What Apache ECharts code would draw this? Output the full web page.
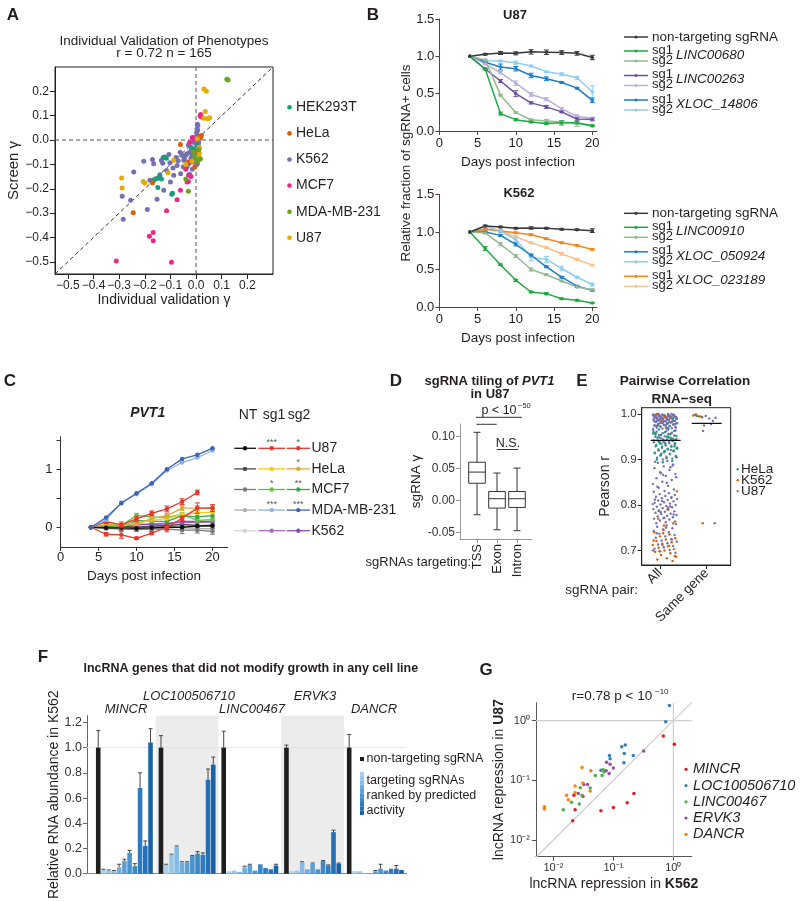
<!DOCTYPE html>
<html><head><meta charset="utf-8"><title>Figure</title>
<script src="https://cdn.jsdelivr.net/npm/echarts@6.0.0/dist/echarts.min.js"></script>
<style>html,body{margin:0;padding:0;background:#fff;}#chart{width:800px;height:901px;}</style>
</head><body><div id="chart"></div>
<script>
// ================= DATA =================
// ---- Panel A: individual validation vs screen gamma
const aCellLines = ['HEK293T','HeLa','K562','MCF7','MDA-MB-231','U87'];
const aTicks = [-0.5,-0.4,-0.3,-0.2,-0.1,0,0.1,0.2];
const aHEK293T = [[-0.128,-0.072],[-0.122,-0.07],[-0.116,-0.075],[-0.152,-0.158],[-0.142,-0.15],[-0.165,-0.165],[-0.149,-0.195],[-0.095,-0.223],[-0.092,-0.218],[-0.135,-0.16],[0.005,-0.02],[-0.01,-0.04],[0.01,-0.06],[-0.02,-0.03]];
const aHeLa = [[-0.061,-0.018],[-0.245,-0.298],[0.013,0.015],[0.021,0.019],[0.018,0.01],[-0.17,-0.175],[-0.03,-0.09],[0.005,-0.05],[-0.005,-0.11],[0.012,-0.035]];
const aK562 = [[-0.243,-0.131],[-0.204,-0.087],[-0.17,-0.08],[-0.165,-0.097],[-0.135,-0.083],[-0.102,-0.093],[-0.106,-0.059],[-0.078,-0.072],[-0.074,-0.104],[-0.054,-0.063],[-0.048,-0.083],[-0.035,-0.056],[-0.029,-0.097],[-0.05,-0.11],[-0.06,-0.138],[-0.087,-0.145],[-0.1,-0.172],[-0.126,-0.206],[-0.152,-0.243],[-0.18,-0.165],[-0.288,-0.231],[-0.284,-0.325],[-0.255,-0.247],[-0.19,-0.285],[-0.141,-0.142],[-0.035,-0.11],[-0.02,-0.075],[-0.015,-0.065],[-0.025,-0.05],[-0.01,-0.045],[0.0,-0.03],[0.003,0.0],[0.005,0.02],[0.006,0.04],[0.007,0.06],[0.005,0.065],[0.002,0.03],[-0.005,0.01],[-0.008,-0.01],[0.008,-0.02],[0.01,-0.05],[0.012,-0.08],[0.005,-0.095],[0.003,-0.1],[-0.012,-0.055],[-0.018,-0.035],[-0.03,-0.02],[-0.04,-0.06],[-0.045,-0.075],[-0.062,-0.05],[-0.07,-0.085],[-0.09,-0.115],[-0.115,-0.125],[-0.13,-0.095],[-0.16,-0.16],[-0.025,-0.14],[-0.015,-0.12],[-0.005,-0.08],[0.0,-0.065],[0.01,-0.01],[0.012,0.005],[-0.002,-0.06],[-0.008,-0.09],[0.004,0.045]];
const aMCF7 = [[0.018,0.105],[0.02,0.095],[0.016,0.1],[-0.061,-0.206],[-0.074,-0.245],[-0.115,-0.29],[-0.182,-0.395],[-0.167,-0.38],[-0.167,-0.413],[-0.311,-0.497],[-0.096,-0.502],[-0.035,-0.172],[-0.03,-0.17],[-0.029,-0.145],[-0.02,-0.15],[-0.04,-0.12],[-0.025,-0.01],[-0.015,0.01],[-0.02,-0.09],[-0.01,0.005]];
const aMDA = [[0.12,0.25],[0.125,0.247],[0.017,-0.077],[-0.04,-0.16],[-0.03,-0.21],[0.005,-0.085],[-0.005,-0.07],[0.01,-0.04],[-0.01,-0.05]];
const aU87 = [[0.031,0.21],[0.04,0.2],[0.036,0.117],[0.045,0.087],[0.053,0.092],[0.03,0.09],[-0.29,-0.156],[-0.288,-0.197],[-0.206,-0.17],[-0.2,-0.176],[-0.087,-0.083],[-0.109,-0.134],[0.012,-0.03],[0.013,-0.056],[-0.016,-0.087],[-0.04,-0.1],[0.01,-0.07],[0.005,0.005]];

// ---- Panel B: growth curves
const bDays = [4,6,8,10,12,14,16,18,20];
const bU87Genes = ['LINC00680','LINC00263','XLOC_14806'];
const bU87NT = [1.00,1.027,1.045,1.04,1.06,1.055,1.05,1.04,0.985];
const bU87NTErr = [0,0.01,0.02,0.02,0.03,0.03,0.025,0.025,0.03];
const bU87_LINC00680_sg1 = [1.00,0.83,0.233,0.152,0.121,0.10,0.11,0.11,0.07];
const bU87_LINC00680_sg1Err = [0,0.01,0.02,0.015,0.01,0.01,0.03,0.02,0.01];
const bU87_LINC00680_sg2 = [1.00,0.95,0.48,0.247,0.15,0.135,0.12,0.10,0.067];
const bU87_LINC00680_sg2Err = [0,0.01,0.01,0.01,0.01,0.02,0.02,0.04,0.01];
const bU87_LINC00263_sg1 = [1.00,0.83,0.67,0.50,0.377,0.323,0.256,0.16,0.157];
const bU87_LINC00263_sg1Err = [0,0.01,0.02,0.04,0.015,0.02,0.01,0.02,0.02];
const bU87_LINC00263_sg2 = [1.00,0.90,0.78,0.64,0.49,0.426,0.296,0.197,0.17];
const bU87_LINC00263_sg2Err = [0,0.01,0.015,0.03,0.025,0.02,0.02,0.02,0.01];
const bU87_XLOC14806_sg1 = [1.00,0.92,0.857,0.834,0.744,0.70,0.65,0.574,0.41];
const bU87_XLOC14806_sg1Err = [0,0.01,0.04,0.03,0.03,0.025,0.01,0.01,0.03];
const bU87_XLOC14806_sg2 = [1.00,0.94,0.937,0.915,0.87,0.795,0.76,0.713,0.525];
const bU87_XLOC14806_sg2Err = [0,0.01,0.01,0.02,0.01,0.01,0.02,0.02,0.08];

const bK562Genes = ['LINC00910','XLOC_050924','XLOC_023189'];
const bK562NT = [1.00,1.08,1.067,1.05,1.054,1.05,1.036,1.03,1.018];
const bK562NTErr = [0,0.01,0.01,0.01,0.015,0.01,0.01,0.01,0.025];
const bK562_LINC00910_sg1 = [1.00,0.78,0.564,0.356,0.20,0.178,0.11,0.089,0.053];
const bK562_LINC00910_sg1Err = [0,0.025,0.01,0.015,0.01,0.015,0.01,0.01,0.005];
const bK562_LINC00910_sg2 = [1.00,0.987,0.836,0.68,0.50,0.43,0.347,0.267,0.23];
const bK562_LINC00910_sg2Err = [0,0.01,0.02,0.02,0.02,0.01,0.01,0.01,0.01];
const bK562_XLOC050924_sg1 = [1.00,1.00,0.955,0.835,0.69,0.536,0.397,0.277,0.223];
const bK562_XLOC050924_sg1Err = [0,0.01,0.015,0.02,0.01,0.01,0.01,0.01,0.01];
const bK562_XLOC050924_sg2 = [1.00,1.08,1.013,0.90,0.665,0.634,0.513,0.397,0.30];
const bK562_XLOC050924_sg2Err = [0,0.015,0.02,0.03,0.05,0.04,0.03,0.01,0.02];
const bK562_XLOC023189_sg1 = [1.00,1.036,1.013,0.99,0.964,0.91,0.857,0.82,0.768];
const bK562_XLOC023189_sg1Err = [0,0.01,0.01,0.01,0.01,0.01,0.01,0.01,0.01];
const bK562_XLOC023189_sg2 = [1.00,1.036,1.02,0.937,0.857,0.79,0.71,0.634,0.558];
const bK562_XLOC023189_sg2Err = [0,0.01,0.01,0.01,0.01,0.01,0.02,0.01,0.01];

// ---- Panel C: PVT1 (log2 relative fraction)
const cDays = [4,6,8,10,12,14,16,18,20];
const cXTicks = [0,5,10,15,20];
const cLines = ['U87','HeLa','MCF7','MDA-MB-231','K562'];
const cStars = [['***','*'],['','*'],['*','**'],['***','***'],['','']];
const cU87NT = [0,-0.01,-0.01,-0.02,-0.01,0.0,0.0,0.02,0.03];
const cU87sg1 = [0,0.098,0.04,0.144,0.24,0.316,0.44,0.60,null];
const cU87sg1Err = [0,0.03,0.05,0.05,0.04,0.05,0.05,0.04,0];
const cU87sg2 = [0,-0.12,-0.13,-0.19,-0.10,0.0,0.155,0.33,0.33];
const cU87sg2Err = [0,0.03,0.06,0.02,0.03,0.05,0.04,0.09,0.06];
const cHeLaNT = [0,0.01,0.02,0.0,0.02,0.03,0.05,0.03,0.02];
const cHeLasg1 = [0,0.06,0.05,0.07,0.12,0.15,0.22,0.25,0.26];
const cHeLasg2 = [0,0.04,0.02,0.06,0.15,0.20,0.33,0.33,0.33];
const cHeLasg2Err = [0,0.02,0.03,0.03,0.04,0.04,0.04,0.04,0.04];
const cMCF7NT = [0,-0.02,-0.03,-0.04,-0.03,-0.03,-0.05,-0.05,-0.07];
const cMCF7NTErr = [0,0.02,0.03,0.03,0.04,0.05,0.06,0.05,0.05];
const cMCF7sg1 = [0,0.05,0.03,0.20,0.18,0.17,0.22,0.12,0.13];
const cMCF7sg1Err = [0,0.02,0.03,0.04,0.03,0.03,0.03,0.03,0.03];
const cMCF7sg2 = [0,0.03,0.0,0.12,0.10,0.10,0.20,0.18,0.20];
const cMDANT = [0,0.0,-0.01,0.0,0.01,0.02,-0.01,-0.02,-0.03];
const cMDAsg1 = [0,0.126,0.425,0.569,0.741,0.977,1.115,1.20,1.322];
const cMDAsg2 = [0,0.167,0.414,0.586,0.759,1.00,1.178,1.247,1.362];
const cK562NT = [0,0.0,0.01,-0.01,0.0,0.02,0.03,0.03,0.05];
const cK562sg1 = [0,0.03,0.04,0.05,0.06,0.07,0.08,0.08,0.09];
const cK562sg2 = [0,0.02,0.03,0.04,0.05,0.06,0.10,0.10,0.10];

// ---- Panel D: sgRNA tiling boxplot [min, Q1, median, Q3, max]
const dCategories = ['TSS','Exon','Intron'];
const dBoxes = [[-0.0224,0.027,0.0445,0.060,0.107],[-0.046,-0.012,0.0027,0.014,0.043],[-0.0475,-0.011,0.0027,0.014,0.0508]];
const dTicks = [-0.05,0,0.05,0.10];

// ---- Panel E: pairwise correlation (Pearson r)
const eCats = ['All','Same gene'];
const eAllU87 = [1.000,.999,.998,.997,.996,.995,.994,.993,.992,.991,.990,.989,.988,.987,.986,.985,.984,.983,.982,.981,.980,.979,.978,.977,.976,.975,.974,.973,.972,.971,.970,.969,.968,.967,.966,
.999,.998,.997,.996,.995,.994,.993,.992,.991,.990,.989,.988,.987,.986,.985,.984,.983,.982,.981,.980,.979,.978,.977,.976,.975,.974,.972,.970,.968,
1.000,.999,.998,.997,.996,.995,.994,.993,.992,.991,.990,.989,.988,.987,.986,.985,.984,.982,.980,.978,.976,.974,
1.000,.999,.998,.997,.996,.995,.994,.993,.992,.991,.990,.988,.986,.984,.981,.999,.998,.997,.996,.995,.994,.993,.992,.990,.987,1.000,.998,.996,.994,.992,.990,
.964,.962,.961,.959,.958,.957,.955,.954,.953,.951,.950,.948,.947,.945,.944,.942,.941,.939,.938,.936,.935,.933,.931,.930,.928,.926,.924,.922,.920,.918,.916,.914,.912,.910,.908,.906,.904,.902,.900,.963,.956,.949,.943,.937,.929,.921,.913,.905,
.897,.893,.889,.885,.881,.877,.872,.868,.864,.859,.855,.851,.846,.842,.838,.834,.831,.895,.883,.870,.861,.849,.840,.887,.866,
.829,.826,.824,.822,.820,.818,.816,.815,.813,.811,.810,.808,.806,.805,.803,.801,.800,.798,.796,.795,.793,.791,.790,.788,.786,.785,.783,.781,.780,.778,.776,.775,.773,.771,.770,.768,.766,.764,.762,.760,.817,.809,.802,.794,.787,.779,.772,.812,.797,.784,
.758,.755,.752,.749,.746,.743,.740,.737,.734,.731,.728,.725,.722,.719,.716,.713,.710,.707,.704,.701,.698,.695,.750,.738,.724,.712,.700];
const eAllHeLa = [.970,.966,.963,.960,.958,.956,.954,.952,.950,.948,.946,.944,.942,.940,.938,.936,.934,.932,.930,.928,.926,.924,.922,.920,.918,.915,.912,.909,.906,.903,.900,.897,.894,.959,.949,.939,.929,.919,.955,.945,.935,.925,.980,.975,.990];
const eAllK562 = [.745,.740,.735,.731,.727,.724,.721,.718,.715,.712,.709,.706,.703,.700,.697,.694,.690,.686,.683,.680,.677,.738,.722,.710,.698,.688,.995,.998,.992,.985,.830,.790,.770,.760,.755];
const eSameU87 = [[0.60,0.998],[0.64,0.995],[0.68,0.993],[0.72,0.996],[0.76,0.990],[0.80,0.985],[0.83,0.992],[0.78,0.978],[0.70,0.975],[0.69,0.963],[0.82,0.760]];
const eSameHeLa = [[0.62,0.996],[0.67,0.994]];
const eSameK562 = [[0.58,0.997],[0.61,0.999],[0.65,0.995],[0.685,0.760]];
const eMeans = [0.942, 0.9795];
const eTicks = [0.7,0.8,0.9,1.0];

// ---- Panel F: RNA abundance in K562
const fGenes = ['MINCR','LOC100506710','LINC00467','ERVK3','DANCR'];
const fNT = [1,1,1,1,1];
const fNTErrTop = [1.135,1.095,1.13,1.02,1.105];
const fMINCR = [0.03,0.025,0.02,0.05,0.10,0.165,0.06,0.68,0.22,1.04];
const fMINCRTop = [0.035,0.03,0.025,0.075,0.115,0.185,0.08,0.80,0.26,1.15];
const fLOC = [0.07,0.15,0.215,0.09,0.09,0.14,0.16,0.15,0.745,0.865];
const fLOCTop = [0.075,0.155,0.22,0.095,0.095,0.145,0.175,0.165,0.83,0.925];
const fLINC = [0.02,0.025,0.015,0.05,0.07,0.025,0.075,0.045,0.035,0.065];
const fLINCTop = [0.022,0.027,0.017,0.06,0.075,0.028,0.078,0.048,0.038,0.075];
const fERVK3 = [0.02,0.025,0.09,0.035,0.08,0.035,0.10,0.065,0.33,0.08];
const fERVK3Top = [0.022,0.027,0.095,0.037,0.085,0.037,0.105,0.07,0.345,0.085];
const fDANCR = [0.02,0.02,0.005,0.005,0.02,0.04,0.025,0.03,0.04,0.03];
const fDANCRTop = [0.022,0.022,0.007,0.007,0.025,0.075,0.028,0.035,0.065,0.033];

// ---- Panel G: repression K562 vs U87 [K562, U87]
const gGenes = ['MINCR','LOC100506710','LINC00467','ERVK3','DANCR'];
const gMINCR = [[0.68,0.55],[1.04,0.40],[0.22,0.06],[0.17,0.042],[0.10,0.035],[0.062,0.031],[0.022,0.056],[0.023,0.032],[0.021,0.021],[0.031,0.054]];
const gLOC = [[0.86,1.79],[0.745,0.96],[0.158,0.39],[0.138,0.365],[0.152,0.28],[0.215,0.26],[0.15,0.196],[0.086,0.26],[0.088,0.23],[0.062,0.147]];
const gLINC = [[0.05,0.12],[0.065,0.12],[0.068,0.15],[0.07,0.138],[0.028,0.075],[0.041,0.074],[0.02,0.043],[0.0146,0.032],[0.027,0.04],[0.03,0.056]];
const gERVK3 = [[0.32,0.31],[0.10,0.16],[0.077,0.20],[0.088,0.186],[0.076,0.144],[0.037,0.085],[0.032,0.085],[0.026,0.06],[0.085,0.13]];
const gDANCR = [[0.03,0.164],[0.042,0.144],[0.031,0.09],[0.023,0.08],[0.041,0.066],[0.023,0.062],[0.0166,0.056],[0.0177,0.047],[0.0071,0.036],[0.0071,0.033]];
const gTicks = [-2,-1,0];

// ================= BUILD =================
const FF = '"Liberation Sans", Arial, Helvetica, sans-serif';
const TXT = '#231f20';
function fmtMinus(s){ return String(s).replace('-', '\u2212'); }
function sup(n){ const m={'-':'\u207B','0':'\u2070','1':'\u00B9','2':'\u00B2','3':'\u00B3','4':'\u2074','5':'\u2075','6':'\u2076','7':'\u2077','8':'\u2078','9':'\u2079'}; return String(n).split('').map(c=>m[c]).join(''); }
function T(x, y, text, o){
  o = o || {};
  const st = { text: text, x: 0, y: 0, fill: o.color || TXT, fontSize: o.size || 13, fontFamily: FF,
    fontWeight: o.weight || 'normal', fontStyle: o.italic ? 'italic' : 'normal',
    align: o.align || 'left', verticalAlign: o.va || 'middle', textAlign: o.align || 'left', textVerticalAlign: o.va || 'middle' };
  if (o.rich) st.rich = o.rich;
  return { type: 'text', x: x, y: y, rotation: o.rot || 0, silent: true, z: 100, style: st };
}
function RS(size, weight, italic, color){ return {fontSize:size, fontFamily:FF, fontWeight:weight||'normal', fontStyle: italic?'italic':'normal', fill: color||TXT, color: color||TXT}; }
function L(x1,y1,x2,y2,color,w){ return {type:'line', silent:true, z:100, shape:{x1,y1,x2,y2}, style:{stroke:color||TXT, lineWidth:w||1}}; }
function C(cx,cy,r,color){ return {type:'circle', silent:true, z:100, shape:{cx,cy,r}, style:{fill:color}}; }
function Rc(x,y,w,h,color){ return {type:'rect', silent:true, z:100, shape:{x,y,width:w,height:h}, style:{fill:color}}; }

const grid = [
  {left:55, top:67, width:218, height:207, show:true, borderColor:'#222', borderWidth:1},
  {left:439.3, top:19, width:157.6, height:112},
  {left:439.3, top:194.5, width:157.6, height:112.5},
  {left:60.5, top:436.7, width:167.2, height:110.3},
  {left:460, top:424, width:72, height:115},
  {left:641.7, top:407.7, width:89, height:157.3, show:true, borderColor:'#222', borderWidth:1},
  {left:87, top:715.7, width:319.7, height:161},
  {left:536, top:702.7, width:155.7, height:154}
];
grid.forEach(g => g.containLabel = false);

function axBase(gi, col, fs){
  return { gridIndex: gi, type: 'value', splitLine: {show:false},
    axisLine: {show:true, onZero:false, lineStyle:{color:col, width:1}},
    axisTick: {show:true, length:4, lineStyle:{color:col}},
    axisLabel: {fontSize: fs||12, color: TXT, fontFamily: FF, margin: 5},
    nameTextStyle: {fontSize: 13.5, color: TXT, fontFamily: FF} };
}
const xAxis = [], yAxis = [];
// A
let ax = axBase(0,'#222'); ax.min=-0.55; ax.max=0.30; ax.axisTick.customValues=aTicks; ax.axisLabel.customValues=aTicks;
ax.axisLabel.formatter = v => fmtMinus(v.toFixed(1)); ax.axisLabel.margin=6; ax.axisTick.length=5;
ax.name='Individual validation \u03B3'; ax.nameLocation='middle'; ax.nameGap=18; ax.nameTextStyle.fontSize=14; xAxis.push(ax);
ax = axBase(0,'#222'); ax.min=-0.55; ax.max=0.30; ax.axisTick.customValues=aTicks; ax.axisLabel.customValues=aTicks;
ax.axisLabel.formatter = v => fmtMinus(v.toFixed(1)); ax.axisLabel.margin=6; ax.axisTick.length=5;
ax.name='Screen \u03B3'; ax.nameLocation='middle'; ax.nameGap=34; ax.nameTextStyle.fontSize=15; yAxis.push(ax);
// B top / bottom
const BCOL = '#5e4038';
[1,2].forEach(gi => {
  let x = axBase(gi,BCOL,13); x.min=0; x.max=20.6; x.interval=5; x.axisLabel.margin=6;
  x.name='Days post infection'; x.nameLocation='middle'; x.nameGap=24; xAxis.push(x);
  let y = axBase(gi,BCOL,13); y.min=0; y.max=1.5; y.interval=0.5; y.axisLabel.formatter = v => v.toFixed(1); yAxis.push(y);
});
// C
ax = axBase(3,'#333',13); ax.min=0; ax.max=22; ax.axisTick.customValues=cXTicks; ax.axisLabel.customValues=cXTicks; ax.axisLabel.margin=4;
ax.name='Days post infection'; ax.nameLocation='middle'; ax.nameGap=22; xAxis.push(ax);
ax = axBase(3,'#333',13); ax.min=-0.34; ax.max=1.56; ax.axisTick.customValues=[0,0.5,1,1.5]; ax.axisLabel.customValues=[0,1];
ax.axisLabel.formatter = v => String(Math.round(v)); ax.axisLabel.margin=8; yAxis.push(ax);
// D
ax = axBase(4,'#999',12); ax.min=0; ax.max=3.6; ax.axisTick.customValues=[0.85,1.85,2.85]; ax.axisLabel.customValues=[0.85,1.85,2.85];
ax.axisLabel.formatter = v => dCategories[Math.round(v-0.85)]; ax.axisLabel.rotate=90; ax.axisLabel.fontSize=13; ax.axisLabel.margin=5; ax.axisTick.length=4; xAxis.push(ax);
ax = axBase(4,'#999',12); ax.min=-0.0605; ax.max=0.12; ax.axisTick.customValues=dTicks; ax.axisLabel.customValues=dTicks;
ax.axisLabel.formatter = v => v.toFixed(2); ax.axisLabel.color='#333';
ax.name='sgRNA \u03B3'; ax.nameLocation='middle'; ax.nameGap=33; ax.nameTextStyle.fontSize=13.5; yAxis.push(ax);
// E
ax = axBase(5,'#222',13); ax.min=0; ax.max=1; ax.axisTick.customValues=[0.2056,0.73]; ax.axisLabel.customValues=[0.2056,0.73];
ax.axisLabel.formatter = v => (v < 0.5 ? eCats[0] : eCats[1]); ax.axisLabel.rotate=45; ax.axisLabel.fontSize=13.5; ax.axisLabel.margin=6; xAxis.push(ax);
ax = axBase(5,'#222',11.5); ax.min=0.668; ax.max=1.014; ax.axisTick.customValues=eTicks; ax.axisLabel.customValues=eTicks;
ax.axisLabel.formatter = v => v.toFixed(1); ax.axisLabel.color='#333';
ax.name='Pearson r'; ax.nameLocation='middle'; ax.nameGap=30; ax.nameTextStyle.fontSize=14; yAxis.push(ax);
// F
ax = axBase(6,'#888',12); ax.min=-1.15; ax.max=60; ax.axisTick.show=false; ax.axisLabel.show=false; xAxis.push(ax);
ax = axBase(6,'#666',12.5); ax.min=0; ax.max=1.253; ax.interval=0.2; ax.axisLabel.formatter = v => v.toFixed(1); ax.axisLabel.color='#333';
ax.name='Relative RNA abundance in K562'; ax.nameLocation='middle'; ax.nameGap=26; ax.nameTextStyle.fontSize=14; yAxis.push(ax);
// G
ax = axBase(7,'#555',11); ax.min=-2.29; ax.max=0.306; ax.axisTick.customValues=gTicks; ax.axisLabel.customValues=gTicks;
ax.axisLabel.formatter = v => '10' + sup(Math.round(v)); ax.axisLabel.margin=6; ax.axisLabel.color='#333';
ax.name='{n|lncRNA repression in }{b|K562}'; ax.nameLocation='middle'; ax.nameGap=20;
ax.nameTextStyle = {rich:{n:RS(14),b:RS(14,'bold')}}; xAxis.push(ax);
ax = axBase(7,'#555',11); ax.min=-2.28; ax.max=0.30; ax.axisTick.customValues=gTicks; ax.axisLabel.customValues=gTicks;
ax.axisLabel.formatter = v => '10' + sup(Math.round(v)); ax.axisLabel.margin=6; ax.axisLabel.color='#333';
ax.name='{n|lncRNA repression in }{b|U87}'; ax.nameLocation='middle'; ax.nameGap=30;
ax.nameTextStyle = {rich:{n:RS(14),b:RS(14,'bold')}}; yAxis.push(ax);

// --------- series
const series = [];
function sc(gi, data, color, size, z){ series.push({type:'scatter', xAxisIndex:gi, yAxisIndex:gi, data:data, symbolSize:size, itemStyle:{color:color, opacity:1}, silent:true, z:z||3}); }
function ln(gi, data, color, w, dash, z){ series.push({type:'line', xAxisIndex:gi, yAxisIndex:gi, data:data, symbol:'none', lineStyle:{color:color, width:w||1, type:dash||'solid'}, silent:true, z:z||1}); }
function curve(gi, xs, ys, color, ss, lw, z){ series.push({type:'line', xAxisIndex:gi, yAxisIndex:gi, data: xs.map((x,i)=>[x, ys[i]]), symbol:'circle', symbolSize:ss||3.5, showSymbol:true, connectNulls:false, lineStyle:{color:color, width:lw||1.4}, itemStyle:{color:color}, silent:true, z:z||2}); }
function errRender(capHalf, upOnly){
  return function(p, api){
    const x = api.value(0), y = api.value(1), e = api.value(2);
    const c = api.visual('color');
    const top = upOnly ? api.coord([x, e]) : api.coord([x, y + e]);
    const bot = upOnly ? api.coord([x, y]) : api.coord([x, y - e]);
    const ch = [{type:'line', shape:{x1:top[0],y1:top[1],x2:bot[0],y2:bot[1]}, style:{stroke:c, lineWidth:1}},
                {type:'line', shape:{x1:top[0]-capHalf,y1:top[1],x2:top[0]+capHalf,y2:top[1]}, style:{stroke:c, lineWidth:1}}];
    if (!upOnly) ch.push({type:'line', shape:{x1:bot[0]-capHalf,y1:bot[1],x2:bot[0]+capHalf,y2:bot[1]}, style:{stroke:c, lineWidth:1}});
    return {type:'group', children:ch};
  };
}
function err(gi, xs, ys, es, color, cap, z){
  const data = xs.map((x,i)=>[x, ys[i], es[i]]).filter(d => d[1] != null && d[2] > 0);
  series.push({type:'custom', xAxisIndex:gi, yAxisIndex:gi, data:data, renderItem: errRender(cap||2.5, false), itemStyle:{color:color}, silent:true, z:z||2});
}

// A
const aSets = [aHEK293T, aHeLa, aK562, aMCF7, aMDA, aU87];
const aColors = ['#1b9e77','#d95f02','#7570b3','#e7298a','#66a61e','#e6ab02'];
ln(0, [[-0.55,-0.55],[0.30,0.30]], '#333', 1, [4,3]);
ln(0, [[0,-0.55],[0,0.30]], '#555', 1, [4,3]);
ln(0, [[-0.55,0],[0.30,0]], '#555', 1, [4,3]);
[2,0,1,3,5,4].forEach(i => sc(0, aSets[i], aColors[i], 5, 3));

// B top
const bTopSets = [
  [bU87_XLOC14806_sg2, bU87_XLOC14806_sg2Err, '#8ecdf0'],
  [bU87_XLOC14806_sg1, bU87_XLOC14806_sg1Err, '#1b7dcc'],
  [bU87_LINC00263_sg2, bU87_LINC00263_sg2Err, '#bcb0db'],
  [bU87_LINC00263_sg1, bU87_LINC00263_sg1Err, '#6d51a3'],
  [bU87_LINC00680_sg2, bU87_LINC00680_sg2Err, '#94ba94'],
  [bU87_LINC00680_sg1, bU87_LINC00680_sg1Err, '#1fa845'],
  [bU87NT, bU87NTErr, '#3a3a3a']];
bTopSets.forEach(s => { curve(1, bDays, s[0], s[2], 3.5, 1.5); err(1, bDays, s[0], s[1], s[2], 2.5); });
const bBotSets = [
  [bK562_XLOC023189_sg2, bK562_XLOC023189_sg2Err, '#f9c18c'],
  [bK562_XLOC023189_sg1, bK562_XLOC023189_sg1Err, '#f2871d'],
  [bK562_XLOC050924_sg2, bK562_XLOC050924_sg2Err, '#8ecdf0'],
  [bK562_XLOC050924_sg1, bK562_XLOC050924_sg1Err, '#1b7dcc'],
  [bK562_LINC00910_sg2, bK562_LINC00910_sg2Err, '#94ba94'],
  [bK562_LINC00910_sg1, bK562_LINC00910_sg1Err, '#1fa845'],
  [bK562NT, bK562NTErr, '#3a3a3a']];
bBotSets.forEach(s => { curve(2, bDays, s[0], s[2], 3.5, 1.5); err(2, bDays, s[0], s[1], s[2], 2.5); });

// C
const cCol = {U87:['#111111','#e9342b','#e23a30'], HeLa:['#4a4a4a','#f7c919','#d9aa3c'], MCF7:['#7a7a7a','#62c23c','#38a548'], MDA:['#b0b0b0','#8eb0e6','#3d63b8'], K562:['#d4d4d4','#a86ac8','#8a4cb2']};
const cSets = [
  [cK562NT,null,cCol.K562[0]],[cMDANT,null,cCol.MDA[0]],[cMCF7NT,cMCF7NTErr,cCol.MCF7[0]],[cHeLaNT,null,cCol.HeLa[0]],
  [cK562sg1,null,cCol.K562[1]],[cK562sg2,null,cCol.K562[2]],
  [cMCF7sg1,cMCF7sg1Err,cCol.MCF7[1]],[cMCF7sg2,null,cCol.MCF7[2]],
  [cHeLasg1,null,cCol.HeLa[1]],[cHeLasg2,cHeLasg2Err,cCol.HeLa[2]],
  [cU87NT,null,cCol.U87[0]],
  [cU87sg1,cU87sg1Err,cCol.U87[1]],[cU87sg2,cU87sg2Err,cCol.U87[2]],
  [cMDAsg1,null,cCol.MDA[1]],[cMDAsg2,null,cCol.MDA[2]]];
cSets.forEach((s,i) => { curve(3, cDays, s[0], s[2], 4.5, 1.3, 2+i*0.01); if (s[1]) err(3, cDays, s[0], s[1], s[2], 2.5, 2+i*0.01); });

// D
series.push({type:'custom', xAxisIndex:4, yAxisIndex:4, silent:true, z:3,
  data: dBoxes.map((b,i) => [0.85 + i, b[0], b[1], b[2], b[3], b[4]]),
  renderItem: function(p, api){
    const x = api.value(0);
    const lo = api.coord([x, api.value(1)]), q1 = api.coord([x, api.value(2)]), md = api.coord([x, api.value(3)]),
          q3 = api.coord([x, api.value(4)]), hi = api.coord([x, api.value(5)]);
    const hw = 8.3, cw = 3.5, cx = lo[0];
    const s = {stroke:'#333', lineWidth:1};
    return {type:'group', children:[
      {type:'line', shape:{x1:cx,y1:hi[1],x2:cx,y2:q3[1]}, style:s},
      {type:'line', shape:{x1:cx,y1:q1[1],x2:cx,y2:lo[1]}, style:s},
      {type:'line', shape:{x1:cx-cw,y1:hi[1],x2:cx+cw,y2:hi[1]}, style:s},
      {type:'line', shape:{x1:cx-cw,y1:lo[1],x2:cx+cw,y2:lo[1]}, style:s},
      {type:'rect', shape:{x:cx-hw, y:q3[1], width:2*hw, height:q1[1]-q3[1]}, style:{stroke:'#333', lineWidth:1, fill:'#fff'}},
      {type:'line', shape:{x1:cx-hw,y1:md[1],x2:cx+hw,y2:md[1]}, style:s}
    ]};
  }});

// E
let jc = 0;
function jit(lo, hi){ jc++; return lo + ((jc * 0.6180339887) % 1) * (hi - lo); }
sc(5, eAllU87.map(y => [jit(0.1236, 0.40), y]), '#7570b3', 2.4, 3);
sc(5, eAllHeLa.map(y => [jit(0.1236, 0.40), y]), '#1b9e77', 2.4, 4);
sc(5, eAllK562.map(y => [jit(0.1236, 0.40), y]), '#d95f02', 2.4, 5);
sc(5, eSameU87, '#7570b3', 2.4, 3);
sc(5, eSameHeLa, '#1b9e77', 2.4, 4);
sc(5, eSameK562, '#d95f02', 2.4, 5);
ln(5, [[0.101, eMeans[0]],[0.438, eMeans[0]]], '#111', 1.2, 'solid', 6);
ln(5, [[0.562, eMeans[1]],[0.899, eMeans[1]]], '#111', 1.2, 'solid', 6);

// F
const fTargets = [fMINCR, fLOC, fLINC, fERVK3, fDANCR];
const fTops = [fMINCRTop, fLOCTop, fLINCTop, fERVK3Top, fDANCRTop];
const fShades = ['#a9d1ee','#97c6e9','#84bae3','#70addd','#5ea0d6','#4c93ce','#3d87c6','#2f7bbe','#246fb5','#1a63aa'];
series.push({type:'custom', xAxisIndex:6, yAxisIndex:6, silent:true, z:0, data:[[12,24],[36,48]],
  renderItem: function(p, api){
    const a = api.coord([api.value(0), 1.253]), b = api.coord([api.value(1), 0]);
    return {type:'rect', shape:{x:a[0], y:a[1], width:b[0]-a[0], height:b[1]-a[1]}, style:{fill:'#ececec'}};
  }});
ln(6, [[-1.15,1],[60,1]], '#e4e4e4', 1, 'solid', 1);
const fBarData = [], fErrData = [];
fGenes.forEach((g, gi) => {
  fBarData.push({value:[gi*12+1, fNT[gi]], itemStyle:{color:'#1e1e1e'}});
  fErrData.push([gi*12+1, fNT[gi], fNTErrTop[gi]]);
  fTargets[gi].forEach((v, k) => {
    fBarData.push({value:[gi*12+2+k, v], itemStyle:{color:fShades[k]}});
    if (fTops[gi][k] - v > 0.004) fErrData.push([gi*12+2+k, v, fTops[gi][k]]);
  });
});
series.push({type:'custom', xAxisIndex:6, yAxisIndex:6, silent:true, z:2, data:fErrData, itemStyle:{color:'#444'}, renderItem: errRender(2, true)});
series.push({type:'bar', xAxisIndex:6, yAxisIndex:6, silent:true, z:3, barWidth:4.6, data:fBarData});

// G
const gMin = -2.29, gMax = 0.306;
ln(7, [[gMin,gMin],[gMax,gMax]], '#cfcfcf', 1.2, 'solid', 1);
ln(7, [[gMin,0],[gMax,0]], '#cfcfcf', 1.2, 'solid', 1);
ln(7, [[0,-2.28],[0,0.30]], '#cfcfcf', 1.2, 'solid', 1);
const gSets = [gMINCR, gLOC, gLINC, gERVK3, gDANCR];
const gColors = ['#e41a1c','#377eb8','#4daf4a','#984ea3','#ff7f00'];
gSets.forEach((s,i) => sc(7, s.map(p => [Math.log10(p[0]), Math.log10(p[1])]), gColors[i], 3.5, 3));

// --------- graphic (panel letters, titles, legends)
const G = [];
[['A',13,15],['B',373,15],['C',10,381],['D',396,381],['E',582,381],['F',43,657],['G',486,670]].forEach(l => G.push(T(l[1], l[2], l[0], {size:17, weight:'bold', align:'center'})));
G.push(T(164, 41.5, 'Individual Validation of Phenotypes', {size:13.5, align:'center'}));
G.push(T(164, 53.5, 'r = 0.72 n = 165', {size:13.5, align:'center'}));
aCellLines.forEach((n,i) => { const y = 107.3 + i*26.1; G.push(C(289.5, y, 2.3, aColors[i])); G.push(T(296, y, n, {size:14})); });
G.push(T(515, 15, 'U87', {size:13, weight:'bold', align:'center'}));
G.push(T(519, 193, 'K562', {size:13, weight:'bold', align:'center'}));
G.push(T(406, 163, 'Relative fraction of sgRNA+ cells', {size:13.5, align:'center', rot:Math.PI/2}));
function bLegend(y0, genes, pairs){
  G.push(L(624, y0, 648, y0, '#3a3a3a', 1.5)); G.push(C(636, y0, 1.6, '#3a3a3a'));
  G.push(T(652, y0, 'non-targeting sgRNA', {size:13.5}));
  genes.forEach((g, i) => {
    const ya = y0 + 13 + i*24.5, yb = ya + 10;
    G.push(L(624, ya+1, 648, ya+1, pairs[i][0], 1.5)); G.push(C(636, ya+1, 1.6, pairs[i][0]));
    G.push(L(624, yb+1, 648, yb+1, pairs[i][1], 1.5)); G.push(C(636, yb+1, 1.6, pairs[i][1]));
    G.push(T(652, ya, 'sg1', {size:13})); G.push(T(652, yb, 'sg2', {size:13}));
    G.push(T(676, ya+5, g, {size:13.5, italic:true}));
  });
}
bLegend(37, bU87Genes, [['#1fa845','#94ba94'],['#6d51a3','#bcb0db'],['#1b7dcc','#8ecdf0']]);
bLegend(213.3, bK562Genes, [['#1fa845','#94ba94'],['#1b7dcc','#8ecdf0'],['#f2871d','#f9c18c']]);
G.push(T(147.7, 413, 'PVT1', {size:14, weight:'bold', italic:true, align:'center'}));
G.push(T(248, 415, 'NT', {size:14, align:'center'})); G.push(T(274, 415, 'sg1', {size:14, align:'center'})); G.push(T(299, 415, 'sg2', {size:14, align:'center'}));
const cKeys = ['U87','HeLa','MCF7','MDA','K562'];
cLines.forEach((n, i) => {
  const y = 448.3 + i*20.6, c = cCol[cKeys[i]];
  G.push(L(234.3, y, 256, y, c[0], 1.3)); G.push(C(245, y, 2.2, c[0]));
  G.push(L(258.3, y, 285, y, c[1], 1.3)); G.push(C(271.7, y, 2.2, c[1]));
  G.push(L(286.7, y, 310, y, c[2], 1.3)); G.push(C(298.3, y, 2.2, c[2]));
  if (cStars[i][0]) G.push(T(271.7, y-6, cStars[i][0], {size:9, align:'center', color:'#555'}));
  if (cStars[i][1]) G.push(T(298.3, y-6, cStars[i][1], {size:9, align:'center', color:'#555'}));
  G.push(T(311.5, y, n, {size:14}));
});
G.push(T(489.5, 381, '{a|sgRNA tiling of }{b|PVT1}', {size:13, weight:'bold', align:'center', rich:{a:RS(13,'bold'), b:RS(13,'bold',true)}}));
G.push(T(490, 394.5, 'in U87', {size:13, weight:'bold', align:'center'}));
G.push(T(499, 410.5, 'p < 10', {size:12.5, align:'center'}));
G.push(T(518, 406, '\u221250', {size:7.5, align:'left'}));
G.push(L(476, 417.3, 522, 417.3, '#333', 1));
G.push(L(476.7, 424.3, 496.7, 424.3, '#333', 1));
G.push(T(508, 444, 'N.S.', {size:12.5, align:'center'}));
G.push(L(496.7, 449.5, 518, 449.5, '#333', 1));
G.push(T(471, 562, 'sgRNAs targeting:', {size:13, align:'right'}));
G.push(T(685, 381.7, 'Pairwise Correlation', {size:13.5, weight:'bold', align:'center'}));
G.push(T(681.7, 399, 'RNA\u2212seq', {size:13.5, weight:'bold', align:'center'}));
[['HeLa','#1b9e77'],['K562','#d95f02'],['U87','#7570b3']].forEach((l,i) => { const y = 469.3 + i*10.9; G.push(C(737.7, y, 1.2, l[1])); G.push(T(741, y, l[0], {size:13.5})); });
G.push(T(638, 590, 'sgRNA pair:', {size:13.5, align:'right'}));
G.push(T(250.8, 668.3, 'lncRNA genes that did not modify growth in any cell line', {size:12.5, weight:'bold', align:'center'}));
[[126,709.3],[189,696.7],[252,709.3],[315,696.7],[374,709.3]].forEach((p,i) => G.push(T(p[0], p[1], fGenes[i], {size:13, italic:true, align:'center'})));
G.push(Rc(360, 757, 4, 4, '#1e1e1e'));
G.push(T(366.5, 758.5, 'non-targeting sgRNA', {size:12.5}));
fShades.forEach((c,k) => G.push(Rc(360, 771.7 + k*4.33, 4, 4.33, c)));
G.push(T(366.5, 780.7, 'targeting sgRNAs', {size:12.5}));
G.push(T(366.5, 795.7, 'ranked by predicted', {size:12.5}));
G.push(T(366.5, 810.7, 'activity', {size:12.5}));
G.push(T(612, 696.7, 'r=0.78 p < 10', {size:13.5, align:'center'}));
G.push(T(655, 692, '\u221210', {size:8, align:'left'}));
gGenes.forEach((n,i) => { const y = 769.3 + i*16.25; G.push(C(686, y, 1.6, gColors[i])); G.push(T(693, y, n, {size:14.5, italic:true})); });

const chart = echarts.init(document.getElementById('chart'), null, {renderer:'canvas', width:800, height:901});
chart.setOption({
  animation:false, backgroundColor:'#fff',
  textStyle:{fontFamily:FF},
  grid: grid, xAxis: xAxis, yAxis: yAxis, series: series, graphic: {elements: G}
});
</script></body></html>
